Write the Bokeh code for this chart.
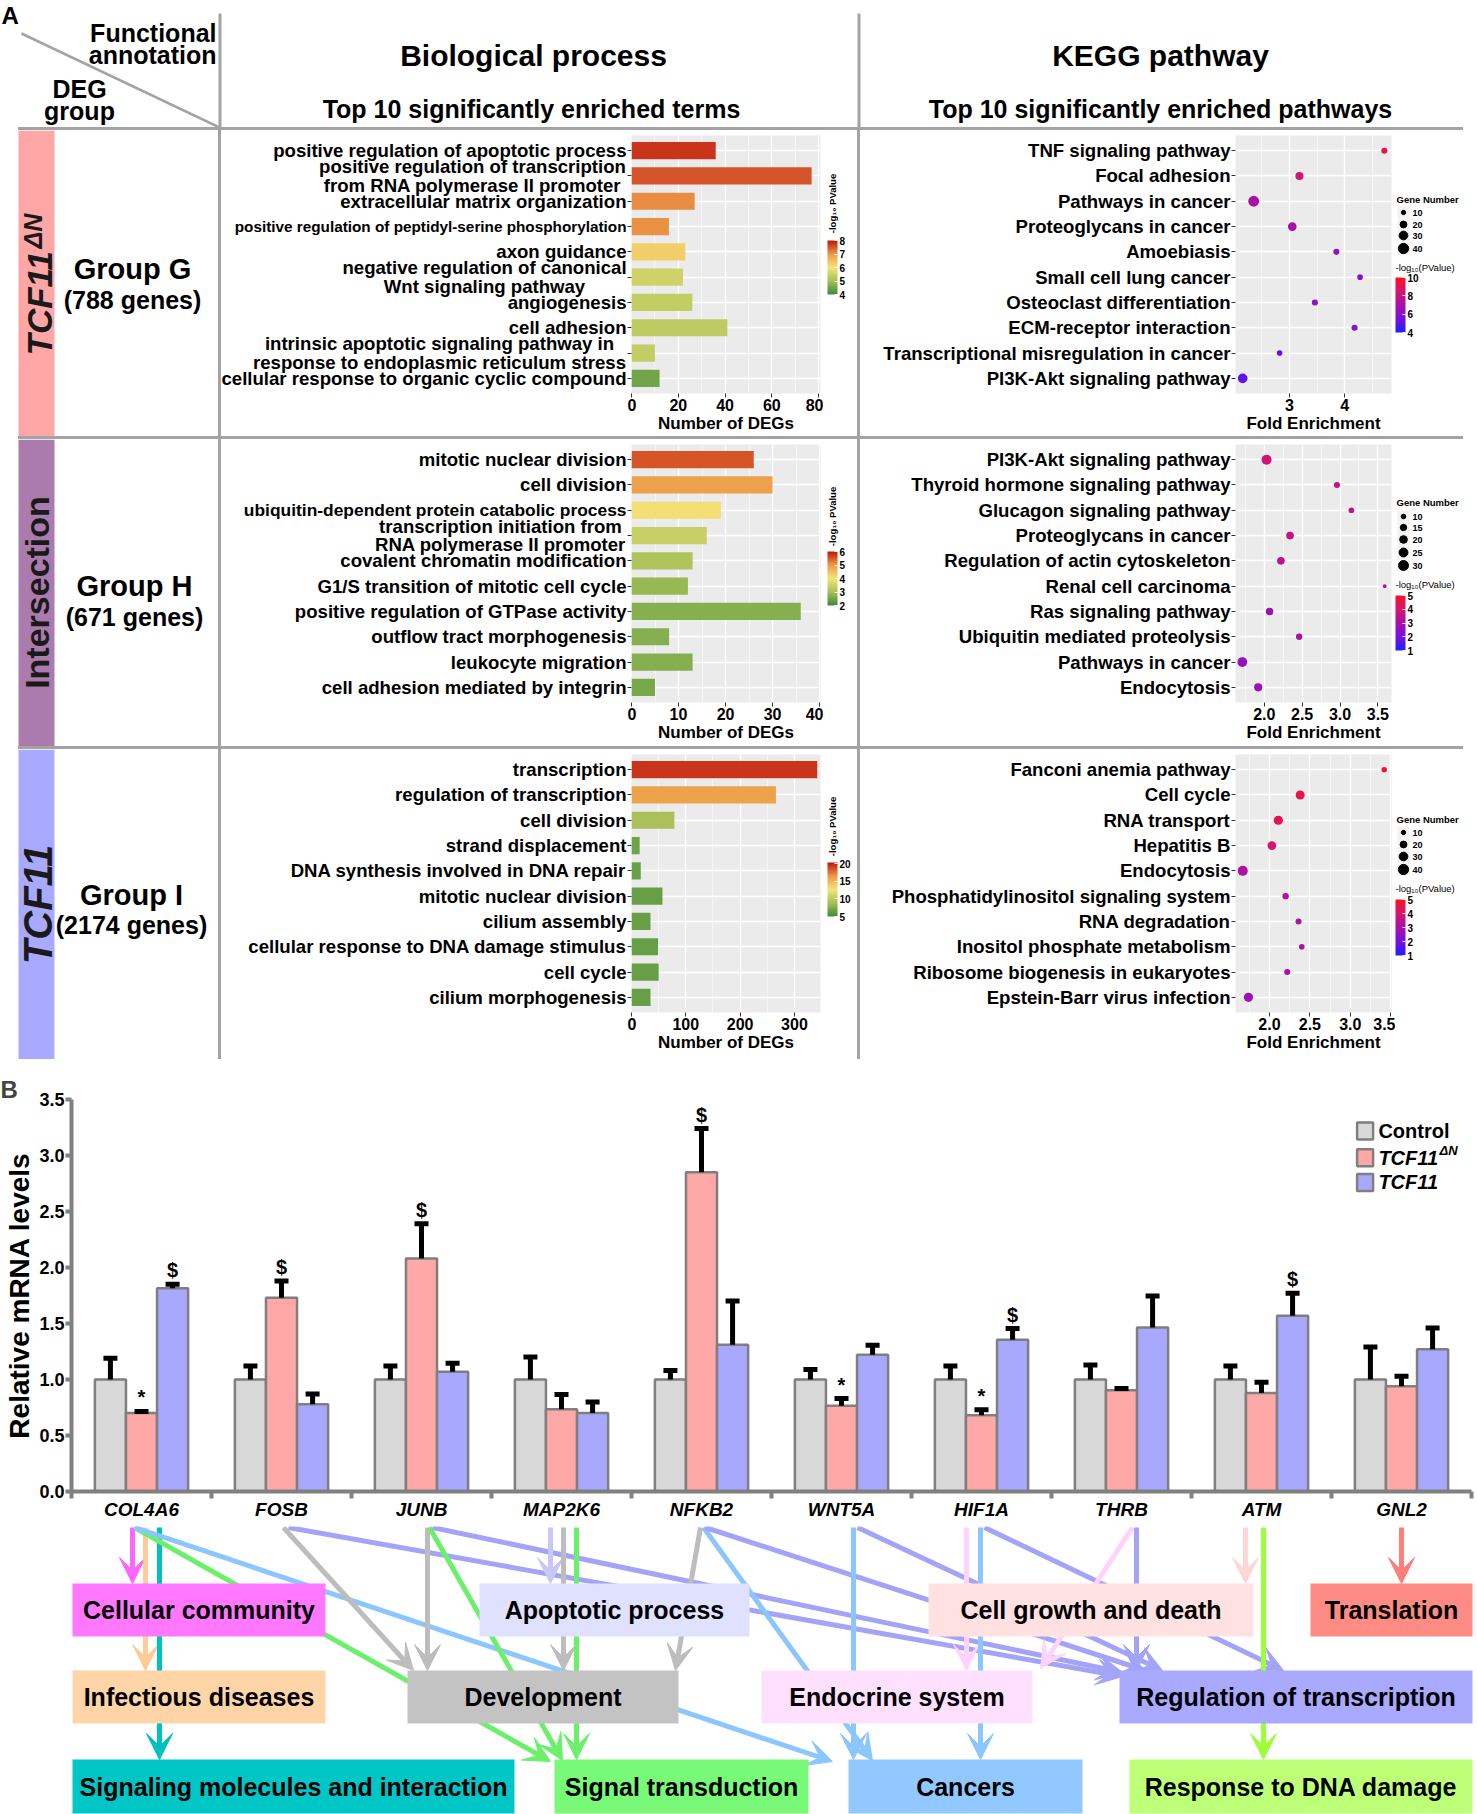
import numpy as np
from bokeh.plotting import figure
from bokeh.models import (Range1d, FixedTicker, ColorBar, LinearColorMapper, ColumnDataSource,
                          Div, Spacer, Arrow, VeeHead, LinearInterpolator, PrintfTickFormatter)
from bokeh.layouts import row, column
from bokeh.embed import file_html
from bokeh.resources import INLINE
from bokeh.core.properties import value, field
from bokeh.transform import dodge

FONT = "Liberation Sans"
LINE_GRAY = "#A3A3A3"

# ======================= DATA =======================
# Panel A - GO biological process
bp_terms_G = ["positive regulation of apoptotic process",
              "positive regulation of transcription\nfrom RNA polymerase II promoter",
              "extracellular matrix organization",
              "positive regulation of peptidyl-serine phosphorylation",
              "axon guidance",
              "negative regulation of canonical\nWnt signaling pathway",
              "angiogenesis",
              "cell adhesion",
              "intrinsic apoptotic signaling pathway in\nresponse to endoplasmic reticulum stress",
              "cellular response to organic cyclic compound"]
bp_count_G = [36, 77, 27, 16, 23, 22, 26, 41, 10, 12]
bp_logp_G = [7.75, 7.5, 7.1, 7.05, 6.3, 5.5, 5.35, 5.3, 5.35, 4.5]

bp_terms_H = ["mitotic nuclear division", "cell division",
              "ubiquitin-dependent protein catabolic process",
              "transcription initiation from\nRNA polymerase II promoter",
              "covalent chromatin modification",
              "G1/S transition of mitotic cell cycle",
              "positive regulation of GTPase activity",
              "outflow tract morphogenesis",
              "leukocyte migration",
              "cell adhesion mediated by integrin"]
bp_count_H = [26, 30, 19, 16, 13, 12, 36, 8, 13, 5]
bp_logp_H = [5.5, 4.9, 4.1, 3.4, 3.1, 2.85, 2.7, 2.7, 2.7, 2.55]

bp_terms_I = ["transcription", "regulation of transcription", "cell division",
              "strand displacement", "DNA synthesis involved in DNA repair",
              "mitotic nuclear division", "cilium assembly",
              "cellular response to DNA damage stimulus", "cell cycle",
              "cilium morphogenesis"]
bp_count_I = [342, 266, 79, 15, 17, 57, 35, 49, 50, 35]
bp_logp_I = [19.4, 16.0, 9.0, 6.8, 6.6, 6.5, 6.5, 6.5, 6.5, 6.5]

# Panel A - KEGG pathways
kg_terms_G = ["TNF signaling pathway", "Focal adhesion", "Pathways in cancer",
              "Proteoglycans in cancer", "Amoebiasis", "Small cell lung cancer",
              "Osteoclast differentiation", "ECM-receptor interaction",
              "Transcriptional misregulation in cancer", "PI3K-Akt signaling pathway"]
kg_fold_G = [4.72, 3.18, 2.35, 3.05, 3.85, 4.28, 3.46, 4.18, 2.82, 2.15]
kg_genes_G = [17, 27, 44, 30, 17, 15, 17, 17, 15, 36]
kg_logp_G = [9.3, 8.3, 7.1, 7.1, 6.3, 6.1, 6.3, 6.1, 5.1, 5.0]

kg_terms_H = ["PI3K-Akt signaling pathway", "Thyroid hormone signaling pathway",
              "Glucagon signaling pathway", "Proteoglycans in cancer",
              "Regulation of actin cytoskeleton", "Renal cell carcinoma",
              "Ras signaling pathway", "Ubiquitin mediated proteolysis",
              "Pathways in cancer", "Endocytosis"]
kg_fold_H = [2.03, 2.96, 3.15, 2.34, 2.22, 3.59, 2.07, 2.46, 1.71, 1.92]
kg_genes_H = [30, 14, 13, 20, 20, 8, 19, 15, 29, 22]
kg_logp_H = [3.9, 3.6, 3.5, 3.6, 3.5, 3.1, 2.8, 3.0, 2.6, 2.7]

kg_terms_I = ["Fanconi anemia pathway", "Cell cycle", "RNA transport", "Hepatitis B",
              "Endocytosis", "Phosphatidylinositol signaling system", "RNA degradation",
              "Inositol phosphate metabolism", "Ribosome biogenesis in eukaryotes",
              "Epstein-Barr virus infection"]
kg_fold_I = [3.42, 2.38, 2.11, 2.03, 1.67, 2.20, 2.36, 2.40, 2.22, 1.74]
kg_genes_I = [14, 32, 33, 30, 38, 18, 17, 15, 17, 33]
kg_logp_I = [4.8, 4.5, 4.4, 4.0, 3.1, 3.3, 3.1, 3.2, 3.0, 2.8]

# Panel B - qPCR
genes = ["COL4A6", "FOSB", "JUNB", "MAP2K6", "NFKB2", "WNT5A", "HIF1A", "THRB", "ATM", "GNL2"]
ctrl = [1.0, 1.0, 1.0, 1.0, 1.0, 1.0, 1.0, 1.0, 1.0, 1.0]
ctrl_err = [0.19, 0.12, 0.12, 0.20, 0.08, 0.09, 0.12, 0.13, 0.12, 0.29]
dn = [0.70, 1.73, 2.08, 0.735, 2.85, 0.765, 0.68, 0.905, 0.88, 0.94]
dn_err = [0.015, 0.15, 0.31, 0.13, 0.39, 0.065, 0.05, 0.015, 0.095, 0.09]
tcf = [1.815, 0.78, 1.07, 0.70, 1.31, 1.22, 1.355, 1.465, 1.57, 1.27]
tcf_err = [0.035, 0.09, 0.075, 0.10, 0.39, 0.085, 0.10, 0.28, 0.20, 0.19]
ctrl_mark = ["", "", "", "", "", "", "", "", "", ""]
dn_mark = ["*", "$", "$", "", "$", "*", "*", "", "", ""]
tcf_mark = ["$", "", "", "", "", "", "$", "", "$", ""]

# Flow diagram (functional categories)
box_labels = ["Cellular community", "Infectious diseases", "Signaling molecules and interaction",
              "Development", "Apoptotic process", "Signal transduction",
              "Cell growth and death", "Translation", "Endocrine system",
              "Regulation of transcription", "Cancers", "Response to DNA damage"]
box_colors = ["#FF78FF", "#FFD5A8", "#00C6C6", "#C3C3C3", "#E0E0FF", "#78FA78",
              "#FFE1E1", "#FF8C84", "#FFE1FF", "#A9A9FF", "#90C8FF", "#BEFF78"]
box_x0 = [72, 72, 72, 407, 479, 554, 928, 1310, 761, 1119, 848, 1129]
box_x1 = [325, 325, 514, 678, 749, 808, 1253, 1472, 1032, 1472, 1082, 1472]
box_y0 = [1583, 1670, 1759, 1670, 1583, 1759, 1583, 1583, 1670, 1670, 1759, 1759]
box_y1 = [1636, 1723, 1813, 1723, 1636, 1813, 1636, 1636, 1723, 1723, 1813, 1813]

C_MAG, C_PEACH, C_TEAL, C_GREEN = "#FF66FF", "#FFCC99", "#00C0C0", "#6CF06C"
C_BLUE, C_PERI, C_GRAY, C_LAV = "#8CC6FF", "#A3A3F8", "#BDBDBD", "#C8C8F6"
C_PINK, C_ENDO, C_SAL, C_LIME = "#FFD6D6", "#FFD2FF", "#FF8078", "#9CFF3A"
# (x_start, x_end, y_end, colour); all start just under the gene labels
arrows = [
    (132, 132, 1583, C_MAG), (145, 145, 1670, C_PEACH), (159, 159, 1759, C_TEAL),
    (134, 550, 1761, C_GREEN), (134, 832, 1761, C_BLUE),
    (283, 413, 1670, C_GRAY), (288, 1122, 1676, C_PERI),
    (427, 427, 1670, C_GRAY), (429, 562, 1760, C_GREEN), (432, 1122, 1672, C_PERI),
    (550, 550, 1583, C_LAV), (563, 563, 1670, C_GRAY), (576, 576, 1759, C_GREEN),
    (700, 675, 1670, C_GRAY), (703, 872, 1760, C_BLUE), (705, 1145, 1670, C_PERI),
    (853, 853, 1759, C_BLUE), (857, 1162, 1670, C_PERI),
    (966, 966, 1670, C_ENDO), (980, 980, 1759, C_BLUE), (984, 1283, 1670, C_PERI),
    (1132, 1040, 1668, C_ENDO), (1136, 1136, 1670, C_PERI),
    (1245, 1245, 1583, C_PINK), (1263, 1263, 1759, C_LIME),
    (1401, 1401, 1583, C_SAL),
]
ARROW_Y0 = 1527


# ======================= HELPERS =======================
def hex2rgb(h):
    h = h.lstrip("#")
    return tuple(int(h[i:i + 2], 16) for i in (0, 2, 4))


def ramp(anchors, n=256):
    rgb = [hex2rgb(a) for a in anchors]
    m = len(rgb) - 1
    out = []
    for k in range(n):
        t = k / (n - 1) * m
        i = min(int(t), m - 1)
        f = t - i
        c = [round(rgb[i][j] * (1 - f) + rgb[i + 1][j] * f) for j in range(3)]
        out.append("#%02x%02x%02x" % tuple(c))
    return out


BP_PAL = ramp(["#3C8A3A", "#A7C058", "#F4E57A", "#EC9A46", "#C0140C"])
KG_PAL = ramp(["#1F1FFF", "#7A10E0", "#A810A8", "#D81470", "#FF1020"])


def solo(p):
    # wrap a figure so that Bokeh does not align its frame with its siblings
    return row(p)


def pix(w, h, x0, x1, ytop, ybot):
    p = figure(width=w, height=h, x_range=Range1d(x0, x1), y_range=Range1d(ybot, ytop),
               x_axis_type=None, y_axis_type=None, toolbar_location=None,
               output_backend="svg", min_border=0)
    p.outline_line_color = None
    p.background_fill_color = "white"
    p.border_fill_color = "white"
    return p


def txt(p, x, y, t, size, style="bold", align="center", baseline="middle", angle=0.0,
        color="black", **kw):
    p.text(x=x if isinstance(x, list) else [x], y=y if isinstance(y, list) else [y],
           text=t if isinstance(t, list) else [t], angle=angle,
           text_font=value(FONT), text_font_size=size, text_font_style=style,
           text_align=align, text_baseline=baseline, text_color=color, **kw)


def vline(h):
    return Div(width=3, height=h, styles={"background-color": LINE_GRAY}, margin=(0, 0, 0, 0))


def hline():
    return row(Spacer(width=18, height=3, margin=(0, 0, 0, 0)),
               Div(width=1445, height=3, styles={"background-color": LINE_GRAY},
                   margin=(0, 0, 0, 0)),
               Spacer(width=14, height=3, margin=(0, 0, 0, 0)))


def style_small_axes(p, xt, xm, fmt=None):
    p.background_fill_color = "#EBEBEB"
    p.outline_line_color = None
    p.border_fill_color = "white"
    ya = p.yaxis[0]
    ya.ticker = FixedTicker(ticks=list(range(1, 11)))
    ya.major_label_overrides = {i: "" for i in range(1, 11)}
    ya.major_label_standoff = 0
    ya.major_tick_out = 4
    ya.major_tick_in = 0
    ya.major_tick_line_color = "#333333"
    ya.minor_tick_line_color = None
    ya.axis_line_color = None
    xa = p.xaxis[0]
    xa.ticker = FixedTicker(ticks=xt, minor_ticks=xm)
    if fmt:
        xa.formatter = PrintfTickFormatter(format=fmt)
    xa.major_tick_out = 4
    xa.major_tick_in = 0
    xa.major_tick_line_color = "#333333"
    xa.minor_tick_line_color = None
    xa.axis_line_color = None
    xa.major_label_text_font = FONT
    xa.major_label_text_font_size = "16px"
    xa.major_label_text_font_style = "bold"
    xa.major_label_text_color = "black"
    xa.major_label_standoff = 1
    xa.axis_label_text_font = FONT
    xa.axis_label_text_font_size = "17px"
    xa.axis_label_text_font_style = "bold"
    xa.axis_label_text_color = "black"
    xa.axis_label_standoff = 0
    p.xgrid.grid_line_color = "white"
    p.xgrid.grid_line_width = 1.4
    p.xgrid.minor_grid_line_color = "white"
    p.xgrid.minor_grid_line_width = 0.7
    p.xgrid.minor_grid_line_alpha = 0.8
    p.ygrid.grid_line_color = "white"
    p.ygrid.grid_line_width = 1.4


def colorbar(mapper, ticks, x, y_bottom, h):
    return ColorBar(color_mapper=mapper, ticker=FixedTicker(ticks=ticks),
                    location=(x, y_bottom), width=10, height=h, orientation="vertical",
                    padding=0, margin=0, title=None, label_standoff=2,
                    major_label_text_font=FONT, major_label_text_font_size="10px",
                    major_label_text_font_style="bold", major_label_text_color="black",
                    major_tick_line_color="white", major_tick_in=3, major_tick_out=0,
                    minor_tick_line_color=None, bar_line_color=None,
                    border_line_color=None, background_fill_alpha=0)


ROWS = list(range(1, 11))
LAB_FS = "18.6px"


def bp_cell(terms, counts, logp, labx, fsz, row_h, xmax, xt, xm, low, high, cbt,
            leg_title_y, cb_top, cb_bot):
    yr = Range1d(10.6, 0.4)
    bb = row_h - 263
    mapper = LinearColorMapper(palette=BP_PAL, low=low, high=high)
    lab = figure(width=406, height=row_h, x_range=Range1d(0, 406), y_range=yr,
                 x_axis_type=None, y_axis_type=None, toolbar_location=None,
                 output_backend="svg", min_border_left=0, min_border_right=0,
                 min_border_top=5, min_border_bottom=bb)
    lab.outline_line_color = None
    lsrc = ColumnDataSource(dict(row=ROWS, term=terms,
                                 lx=[405 if v is None else v for v in labx],
                                 al=["right" if v is None else "center" for v in labx],
                                 fs=["%spx" % s for s in fsz]))
    lab.text(x="lx", y="row", text="term", text_align=field("al"), text_baseline="middle",
             text_font=value(FONT), text_font_style="bold", text_font_size=field("fs"),
             text_line_height=0.88, text_color="black", source=lsrc)

    p = figure(width=196, height=row_h, x_range=Range1d(0, xmax), y_range=yr,
               toolbar_location=None, output_backend="svg",
               min_border_left=4, min_border_right=3, min_border_top=5, min_border_bottom=bb)
    style_small_axes(p, xt, xm)
    p.xaxis.axis_label = "Number of DEGs"
    src = ColumnDataSource(dict(row=ROWS, count=counts, logp=logp))
    p.hbar(y="row", left=0, right="count", height=0.68,
           fill_color={"field": "logp", "transform": mapper}, line_color=None, source=src)

    lg = pix(34, row_h, 0, 34, 0, row_h)
    txt(lg, 9, leg_title_y, "-log\u2081\u2080 PValue", "9.5px", angle=np.pi / 2)
    lg.add_layout(colorbar(mapper, cbt, 4, row_h - cb_bot, cb_bot - cb_top))
    return [solo(lab), solo(p), solo(lg)]


def kg_cell(terms, fold, gn, logp, row_h, xr, xt, xm, fmt, low, high, cbt, dpar,
            leg_vals, t_y, key_ys, ct_y, cb_top, cb_bot):
    yr = Range1d(10.6, 0.4)
    bb = row_h - 263
    mapper = LinearColorMapper(palette=KG_PAL, low=low, high=high)
    a, b = dpar
    npts = [1, 5, 10, 15, 20, 25, 30, 35, 40, 45, 50, 60]
    interp = LinearInterpolator(x=npts, y=[max(1.5, a * np.sqrt(n) + b) for n in npts])

    lab = figure(width=371, height=row_h, x_range=Range1d(0, 371), y_range=yr,
                 x_axis_type=None, y_axis_type=None, toolbar_location=None,
                 output_backend="svg", min_border_left=0, min_border_right=0,
                 min_border_top=5, min_border_bottom=bb)
    lab.outline_line_color = None
    txt(lab, [370] * 10, ROWS, terms, LAB_FS, align="right")

    p = figure(width=164, height=row_h, x_range=Range1d(*xr), y_range=yr,
               toolbar_location=None, output_backend="svg",
               min_border_left=4, min_border_right=4, min_border_top=5, min_border_bottom=bb)
    style_small_axes(p, xt, xm, fmt)
    p.xaxis.axis_label = "Fold Enrichment"
    src = ColumnDataSource(dict(row=ROWS, fold=fold, genes=gn, logp=logp))
    p.scatter(x="fold", y="row", size={"field": "genes", "transform": interp},
              fill_color={"field": "logp", "transform": mapper}, line_color=None, source=src)

    lg = pix(82, row_h, 0, 82, 0, row_h)
    txt(lg, 1, t_y, "Gene Number", "9.5px", align="left")
    half = 6
    lg.quad(left=2, right=14, top=[y - half for y in key_ys], bottom=[y + half for y in key_ys],
            fill_color="#F2F2F2", line_color=None)
    ksrc = ColumnDataSource(dict(x=[8] * len(leg_vals), y=key_ys, genes=leg_vals,
                                 lab=[str(v) for v in leg_vals], lx=[17] * len(leg_vals)))
    lg.scatter(x="x", y="y", size={"field": "genes", "transform": interp}, color="black",
               source=ksrc)
    lg.text(x="lx", y="y", text="lab", text_font=value(FONT), text_font_size="9px",
            text_font_style="bold", text_baseline="middle", text_align="left", source=ksrc)
    txt(lg, 0, ct_y, "-log\u2081\u2080(PValue)", "9.5px", style="normal", align="left")
    lg.add_layout(colorbar(mapper, cbt, 0, row_h - cb_bot, cb_bot - cb_top))
    return [solo(lab), solo(p), solo(lg)]


# ======================= PANEL A HEADER =======================
hdr = pix(1477, 127, 0, 1477, 0, 127)
txt(hdr, 1, 15, "A", "24px", align="left")
hdr.segment(x0=[21], y0=[33], x1=[219], y1=[127], line_color=LINE_GRAY, line_width=2.5)
hdr.segment(x0=[219.5, 858.5], y0=[13, 13], x1=[219.5, 858.5], y1=[127, 127],
            line_color=LINE_GRAY, line_width=3)
txt(hdr, 216, 32, "Functional", "25px", align="right")
txt(hdr, 216, 54, "annotation", "25px", align="right")
txt(hdr, 79, 88, "DEG", "25px")
txt(hdr, 79, 110, "group", "25px")
txt(hdr, 533, 55, "Biological process", "30px")
txt(hdr, 531, 108, "Top 10 significantly enriched terms", "25px")
txt(hdr, 1160, 55, "KEGG pathway", "30px")
txt(hdr, 1160, 108, "Top 10 significantly enriched pathways", "25px")


def left_cell(row_h, color, group, ngenes, gx, gy, ny):
    p = pix(218, row_h, 0, 218, 0, row_h)
    p.quad(left=18, right=54, top=0, bottom=row_h, fill_color=color, line_color=None)
    txt(p, gx, gy, group, "29px")
    txt(p, gx, ny, ngenes, "25px")
    return p


HG, HH, HI = 306, 307, 310
# ---- row G ----
lG = left_cell(HG, "#FFA6A6", "Group G", "(788 genes)", 132, 138, 169)
txt(lG, 39, 225, "TCF11", "35px", style="bold italic", align="left", angle=np.pi / 2,
    color="#1A1A1A")
txt(lG, 32, 118, "\u0394N", "25px", style="bold italic", align="left", angle=np.pi / 2,
    color="#1A1A1A")
bpG = bp_cell(bp_terms_G, bp_count_G, bp_logp_G,
              [None, 251, None, None, None, 263, None, None, 218, None],
              [18.6, 18.6, 18.6, 15.3, 18.6, 18.6, 18.6, 18.6, 18.6, 18.6], HG, 80.8,
              [0, 20, 40, 60, 80], [10, 30, 50, 70], 4, 8, [4, 5, 6, 7, 8], 73, 110, 164)
kgG = kg_cell(kg_terms_G, kg_fold_G, kg_genes_G, kg_logp_G, HG, (2.02, 4.85), [3, 4],
              [2.5, 3.5, 4.5], None, 4, 10, [4, 6, 8, 10], (1.9, -1.7),
              [10, 20, 30, 40], 69, [82, 94, 105, 118], 137, 147, 202)
rowG = row(solo(lG), vline(HG), *bpG, vline(HG), *kgG)

# ---- row H ----
lH = left_cell(HH, "#AB7BAE", "Group H", "(671 genes)", 134, 146, 177)
txt(lH, 36, 153, "Intersection", "34px", angle=np.pi / 2, color="#1A1A1A")
bpH = bp_cell(bp_terms_H, bp_count_H, bp_logp_H,
              [None, None, None, 279, None, None, None, None, None, None],
              [18.6, 18.6, 17.4, 18.6, 18.6, 18.6, 18.6, 18.6, 18.6, 18.6], HH, 40.2,
              [0, 10, 20, 30, 40], [5, 15, 25, 35], 2, 6,
              [2, 3, 4, 5, 6], 77, 112, 166)
kgH = kg_cell(kg_terms_H, kg_fold_H, kg_genes_H, kg_logp_H, HH, (1.62, 3.68),
              [2.0, 2.5, 3.0, 3.5], [1.75, 2.25, 2.75, 3.25], "%.1f", 1, 5, [1, 2, 3, 4, 5],
              (2.28, -2.5), [10, 15, 20, 25, 30], 63, [77, 88, 100, 113, 126], 145, 156, 211)
rowH = row(solo(lH), vline(HH), *bpH, vline(HH), *kgH)

# ---- row I ----
lI = left_cell(HI, "#A9A9FF", "Group I", "(2174 genes)", 131, 145, 175)
txt(lI, 37, 155, "TCF11", "40px", style="bold italic", angle=np.pi / 2, color="#1A1A1A")
bpI = bp_cell(bp_terms_I, bp_count_I, bp_logp_I, [None] * 10, [18.6] * 10, HI, 348,
              [0, 100, 200, 300], [50, 150, 250], 5, 20.3, [5, 10, 15, 20], 77, 113, 167)
kgI = kg_cell(kg_terms_I, kg_fold_I, kg_genes_I, kg_logp_I, HI, (1.58, 3.51),
              [2.0, 2.5, 3.0, 3.5], [1.75, 2.25, 2.75, 3.25], "%.1f", 1, 5, [1, 2, 3, 4, 5],
              (1.9, -1.7), [10, 20, 30, 40], 70, [83, 95, 107, 120], 139, 150, 206)
rowI = row(solo(lI), vline(HI), *bpI, vline(HI), *kgI)

# ======================= PANEL B =======================
pb = figure(width=1477, height=467, x_range=Range1d(-0.5, 9.5), y_range=Range1d(0, 3.5),
            toolbar_location=None, output_backend="svg",
            min_border_left=71, min_border_right=6, min_border_top=40, min_border_bottom=35)
pb.outline_line_color = None
pb.grid.visible = False
pb.title.text = "B"
pb.title.align = "left"
pb.title.offset = -71
pb.title.standoff = -6
pb.title.text_font = FONT
pb.title.text_font_size = "24px"
pb.title.text_font_style = "bold"

xi = list(range(len(genes)))
srcB = ColumnDataSource(dict(
    xi=xi, ctrl=ctrl, dn=dn, tcf=tcf,
    ctrl_top=[v + e for v, e in zip(ctrl, ctrl_err)],
    dn_top=[v + e for v, e in zip(dn, dn_err)],
    tcf_top=[v + e for v, e in zip(tcf, tcf_err)],
    ctrl_mark=ctrl_mark, dn_mark=dn_mark, tcf_mark=tcf_mark))
BW = 0.222
series = [("ctrl", -BW, "#D9D9D9"), ("dn", 0.0, "#FFA8A8"), ("tcf", BW, "#A8A8FF")]
for key, off, col in series:
    xs = dodge("xi", off, range=pb.x_range)
    pb.vbar(x=xs, bottom=0, top=key, width=BW, fill_color=col, line_color="#7F7F7F",
            line_width=2.5, source=srcB)
for key, off, col in series:
    xs = dodge("xi", off, range=pb.x_range)
    pb.segment(x0=xs, y0=key, x1=xs, y1=key + "_top", line_color="black", line_width=5,
               source=srcB)
    pb.scatter(x=xs, y=key + "_top", marker="dash", size=14, line_color="black",
               line_width=5, source=srcB)
    pb.text(x=xs, y=key + "_top", text=key + "_mark", text_align="center",
            text_baseline="bottom", y_offset=-3, text_font=value(FONT),
            text_font_size="20px", text_font_style="bold", text_color="black", source=srcB)

ya = pb.yaxis[0]
ya.ticker = FixedTicker(ticks=[0, 0.5, 1.0, 1.5, 2.0, 2.5, 3.0, 3.5])
ya.formatter = PrintfTickFormatter(format="%.1f")
ya.axis_line_width = 4
ya.axis_line_color = "#808080"
ya.major_tick_line_width = 4
ya.major_tick_line_color = "#808080"
ya.major_tick_out = 6
ya.major_tick_in = 0
ya.minor_tick_line_color = None
ya.major_label_text_font = FONT
ya.major_label_text_font_size = "18px"
ya.major_label_text_font_style = "bold"
ya.major_label_text_color = "black"
ya.major_label_standoff = 1
ya.axis_label = "Relative mRNA levels"
ya.axis_label_text_font = FONT
ya.axis_label_text_font_size = "28px"
ya.axis_label_text_font_style = "bold"
ya.axis_label_text_color = "black"
ya.axis_label_standoff = 1

xa = pb.xaxis[0]
xa.ticker = FixedTicker(ticks=xi, minor_ticks=[k - 0.5 for k in range(len(genes) + 1)])
xa.major_label_overrides = {i: g for i, g in enumerate(genes)}
xa.major_tick_line_color = None
xa.major_tick_out = 0
xa.major_tick_in = 0
xa.minor_tick_line_color = "#808080"
xa.minor_tick_line_width = 4
xa.minor_tick_out = 7
xa.minor_tick_in = 0
xa.axis_line_width = 4
xa.axis_line_color = "#808080"
xa.major_label_text_font = FONT
xa.major_label_text_font_size = "19px"
xa.major_label_text_font_style = "bold italic"
xa.major_label_text_color = "black"
xa.major_label_standoff = 0

# legend of panel B (layout positions in data units of the chart)
LEG_X, LEG_TX = 8.74, 8.835
LEG_Y = [3.219, 2.98, 2.76]
pb.rect(x=[LEG_X] * 3, y=LEG_Y, width=16, height=17, width_units="screen",
        height_units="screen", fill_color=[c for _, _, c in series], line_color="#7F7F7F",
        line_width=2.5)
txt(pb, LEG_TX, LEG_Y[0], "Control", "20px", align="left")
txt(pb, LEG_TX, LEG_Y[1], "TCF11", "20px", style="bold italic", align="left")
txt(pb, LEG_TX, LEG_Y[1], "\u0394N", "13px", style="bold italic", align="left",
    x_offset=61, y_offset=-7)
txt(pb, LEG_TX, LEG_Y[2], "TCF11", "20px", style="bold italic", align="left")

# ======================= FLOW DIAGRAM =======================
flow = pix(1477, 288, 0, 1477, 1526, 1814)
for x0, x1, y1, col in arrows:
    flow.add_layout(Arrow(x_start=x0, y_start=ARROW_Y0, x_end=x1, y_end=y1,
                          line_color=col, line_width=5, level="underlay",
                          end=VeeHead(size=26, fill_color=col, line_color=col,
                                      line_width=1)))
fsrc = ColumnDataSource(dict(x0=box_x0, x1=box_x1, y0=box_y0, y1=box_y1, col=box_colors,
                             lab=box_labels,
                             cx=[(a + b) / 2 for a, b in zip(box_x0, box_x1)],
                             cy=[(a + b) / 2 for a, b in zip(box_y0, box_y1)]))
flow.quad(left="x0", right="x1", top="y0", bottom="y1", fill_color="col", line_color=None,
          source=fsrc)
flow.text(x="cx", y="cy", text="lab", text_align="center", text_baseline="middle",
          text_font=value(FONT), text_font_size="25px", text_font_style="bold",
          text_color="black", source=fsrc)

layout = column(solo(hdr), hline(), rowG, hline(), rowH, hline(), rowI, solo(pb), solo(flow))
open("out.html", "w").write(file_html(layout, INLINE, "Figure"))
